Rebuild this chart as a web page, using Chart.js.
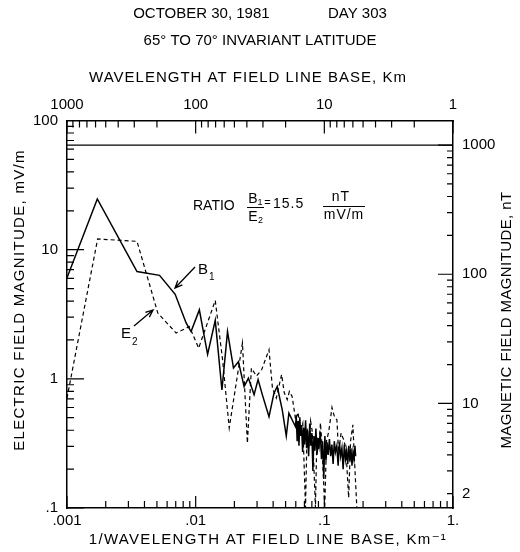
<!DOCTYPE html>
<html><head><meta charset="utf-8">
<script src="https://cdn.jsdelivr.net/npm/chart.js@4/dist/chart.umd.min.js"></script>
<style>html,body{margin:0;padding:0;background:#fff}canvas{display:block}</style>
</head><body>
<canvas id="c" width="520" height="552"></canvas>
<script>
// ---------- DATA ----------
const titleLines = ['OCTOBER 30, 1981\u00A0\u00A0\u00A0\u00A0\u00A0\u00A0\u00A0\u00A0\u00A0\u00A0\u00A0\u00A0\u00A0\u00A0DAY 303', '65° TO 70° INVARIANT LATITUDE'];
const topAxisTitle = 'WAVELENGTH AT FIELD LINE BASE, Km';
const bottomAxisTitle = '1/WAVELENGTH AT FIELD LINE BASE, Km\u207B\u00B9';
const leftAxisTitle = 'ELECTRIC FIELD MAGNITUDE, mV/m';
const rightAxisTitle = 'MAGNETIC FIELD MAGNITUDE, nT';

// B1 (magnetic, nT) vs 1/wavelength (km^-1)
const b1Freq = [0.001,0.00172,0.0035,0.00524,0.00693,0.00843,0.00921,0.01068,0.01238,0.0142,0.016,0.01768,0.01967,0.0215,0.0238,0.0257,0.02844,0.03055,0.03296,0.03715,0.0406,0.04306,0.0471,0.0506,0.05305,0.0597,
 0.0605,0.0615,0.0625,0.0635,0.0645,0.0655,0.0665,0.0678,0.069,0.0702,0.0715,0.0728,0.074,0.0755,0.077,0.0785,0.080,0.0815,0.083,0.0845,0.086,0.0878,0.0895,0.091,0.093,0.095,0.097,0.099,0.101,0.103,0.105,0.107,0.1095,0.112,0.1145,0.117,0.1195,0.122,0.125,0.128,0.131,0.134,0.137,0.140,0.143,0.146,0.149,0.152,0.155,0.158,0.161,0.164,0.167,0.170,0.173,0.175];
const b1nT = [94,383,105,98,70,42,36,53,24,44,12.7,36,18.8,21,13.5,15.7,11.7,15.3,11.7,7.9,12.0,13.5,8.9,5.6,8.4,6.6,
 8.1,5.1,7.3,4.7,7.8,5.6,6.8,4.2,6.5,4.8,7.4,4.5,6.2,3.9,7.0,4.7,5.9,3.0,5.6,4.3,6.4,4.0,5.4,4.7,6.0,3.7,5.1,2.6,5.6,3.6,5.0,4.0,5.3,3.9,4.8,3.4,5.1,4.2,4.7,3.3,5.0,3.9,4.5,3.1,4.8,3.7,4.3,3.4,4.7,3.6,4.5,3.3,4.2,3.7,4.7,3.9];

// E2 (electric, mV/m) vs 1/wavelength (km^-1)
const e2Freq = [0.001,0.00173,0.0035,0.00508,0.00705,0.00894,0.01055,0.0142,0.01618,0.01823,0.0231,0.02524,0.0271,0.0297,0.03263,0.03715,0.0395,0.04232,0.04656,0.0488,0.05146,0.0535,0.0562,0.0598,0.0625,0.0653,0.068,0.0714,0.0735,0.076,0.0782,0.0803,0.0828,0.0853,0.0875,0.0905,0.0933,0.096,0.1007,0.104,0.1082,0.1147,0.119,0.1253,0.129,0.135,0.141,0.147,0.1545,0.16,0.1667,0.171,0.179];
const e2mV = [0.71,12.1,11.6,3.23,2.26,2.54,1.73,4.04,1.41,0.417,1.89,0.318,1.21,1.05,1.18,1.68,0.85,0.71,1.08,0.78,0.69,0.80,0.73,0.483,0.55,0.381,0.45,0.1,0.42,0.30,0.47,0.40,0.22,0.1,0.36,0.28,0.455,0.30,0.1,0.33,0.39,0.60,0.52,0.48,0.27,0.38,0.34,0.29,0.12,0.33,0.44,0.25,0.1];

// 1000 nT reference line
const refFreq = [0.001, 1];
const refnT = [1000, 1000];

// Ticks and labels
const freqTicks = [0.001,0.002,0.003,0.004,0.005,0.006,0.007,0.008,0.009,0.01,0.02,0.03,0.04,0.05,0.06,0.07,0.08,0.09,0.1,0.2,0.3,0.4,0.5,0.6,0.7,0.8,0.9,1];
const freqLabels = {0.001:'.001', 0.01:'.01', 0.1:'.1', 1:'1.'};
const waveTicks = [1000,900,800,700,600,500,400,300,200,100,90,80,70,60,50,40,30,20,10,9,8,7,6,5,4,3,2,1];
const waveLabels = {1000:'1000', 100:'100', 10:'10', 1:'1'};
const eTicks = [0.1,0.2,0.3,0.4,0.5,0.6,0.7,0.8,0.9,1,2,3,4,5,6,7,8,9,10,20,30,40,50,60,70,80,90,100];
const eLabels = {0.1:'.1', 1:'1', 10:'10', 100:'100'};
const bTicks = [2,3,4,5,6,7,8,9,10,20,30,40,50,60,70,80,90,100,200,300,400,500,600,700,800,900,1000];
const bLabels = {2:'2', 10:'10', 100:'100', 1000:'1000'};

// ---------- CHART ----------
const FONT = "'Liberation Sans', 'DejaVu Sans', Arial, sans-serif";
const pts = (xs, ys) => xs.map((x, i) => ({x, y: ys[i]}));
const isDecade = v => Math.abs(Math.log10(v) - Math.round(Math.log10(v))) < 1e-6;

const frameTicks = {
  id: 'frameTicks',
  afterDraw(chart) {
    const {ctx, chartArea: a, scales} = chart;
    ctx.save();
    ctx.strokeStyle = '#000';
    ctx.lineWidth = 1.2;
    ctx.beginPath();
    scales.x.ticks.forEach(t => {
      const p = scales.x.getPixelForValue(t.value), L = isDecade(t.value) ? 12 : 7;
      ctx.moveTo(p, a.bottom); ctx.lineTo(p, a.bottom - L);
    });
    scales.x2.ticks.forEach(t => {
      const p = scales.x2.getPixelForValue(t.value), L = isDecade(t.value) ? 13 : 7;
      ctx.moveTo(p, a.top); ctx.lineTo(p, a.top + L);
    });
    scales.y.ticks.forEach(t => {
      const p = scales.y.getPixelForValue(t.value), L = isDecade(t.value) ? 17 : 7;
      ctx.moveTo(a.left, p); ctx.lineTo(a.left + L, p);
    });
    scales.y2.ticks.forEach(t => {
      const p = scales.y2.getPixelForValue(t.value), L = isDecade(t.value) ? 15 : 6;
      ctx.moveTo(a.right, p); ctx.lineTo(a.right - L, p);
    });
    ctx.stroke();

    // axis titles (drawn with slightly wider lettering, like the original)
    ctx.fillStyle = '#000';
    ctx.font = `15px ${FONT}`;
    ctx.textAlign = 'center';
    ctx.textBaseline = 'middle';
    const cx = (a.left + a.right) / 2;
    ctx.letterSpacing = '1px';
    ctx.fillText(topAxisTitle, cx - 12, 78);
    ctx.letterSpacing = '1.3px';
    ctx.fillText(bottomAxisTitle, cx + 8, 540);
    ctx.save(); ctx.translate(20, 300); ctx.rotate(-Math.PI / 2); ctx.fillText(leftAxisTitle, 0, 0); ctx.restore();
    ctx.letterSpacing = '0.4px';
    ctx.save(); ctx.translate(507, 320); ctx.rotate(-Math.PI / 2); ctx.fillText(rightAxisTitle, 0, 0); ctx.restore();
    ctx.letterSpacing = '0px';

    // ratio annotation
    ctx.font = `14px ${FONT}`;
    ctx.textAlign = 'left';
    ctx.fillText('RATIO', 193, 206);
    ctx.textAlign = 'center';
    ctx.fillText('B', 253, 199);
    ctx.fillText('E', 253, 217);
    ctx.font = `9px ${FONT}`;
    ctx.fillText('1', 260, 203);
    ctx.fillText('2', 260.5, 221);
    ctx.font = `11px ${FONT}`;
    ctx.fillText('=', 267.5, 203);
    ctx.font = `14px ${FONT}`;
    ctx.textAlign = 'left';
    ctx.letterSpacing = '1px';
    ctx.fillText('15.5', 273, 204);
    ctx.textAlign = 'center';
    ctx.fillText('nT', 341, 197);
    ctx.fillText('mV/m', 344, 215);
    ctx.letterSpacing = '0px';
    ctx.lineWidth = 1;
    ctx.beginPath();
    ctx.moveTo(247, 207.5); ctx.lineTo(264, 207.5);
    ctx.moveTo(323, 206.5); ctx.lineTo(365, 206.5);
    ctx.stroke();

    // curve labels with arrows
    ctx.font = `15px ${FONT}`;
    ctx.textAlign = 'left';
    ctx.fillText('B', 198, 270);
    ctx.fillText('E', 121, 334);
    ctx.font = `10px ${FONT}`;
    ctx.fillText('1', 209, 277);
    ctx.fillText('2', 132, 342);
    const arrow = (x1, y1, x2, y2) => {
      const ang = Math.atan2(y2 - y1, x2 - x1), h = 8, s = 0.4;
      ctx.beginPath();
      ctx.moveTo(x1, y1); ctx.lineTo(x2, y2);
      ctx.moveTo(x2 - h * Math.cos(ang - s), y2 - h * Math.sin(ang - s));
      ctx.lineTo(x2, y2);
      ctx.lineTo(x2 - h * Math.cos(ang + s), y2 - h * Math.sin(ang + s));
      ctx.stroke();
    };
    ctx.lineWidth = 1.3;
    arrow(195, 267, 175, 288);
    arrow(134, 326, 153, 310);
    ctx.restore();
  }
};

const tickFont = {family: FONT, size: 15};
const border = {display: true, color: '#000', width: 1.5};

new Chart(document.getElementById('c'), {
  type: 'line',
  data: {
    datasets: [
      {label: 'B1', data: pts(b1Freq, b1nT), yAxisID: 'y2', xAxisID: 'x', borderColor: '#000', borderWidth: 1.5, pointRadius: 0, tension: 0, fill: false},
      {label: 'E2', data: pts(e2Freq, e2mV), yAxisID: 'y', xAxisID: 'x', borderColor: '#000', borderWidth: 1.2, borderDash: [4, 3], pointRadius: 0, tension: 0, fill: false},
      {label: '1000 nT', data: pts(refFreq, refnT), yAxisID: 'y2', xAxisID: 'x', borderColor: '#000', borderWidth: 1.2, pointRadius: 0, tension: 0, fill: false}
    ]
  },
  options: {
    responsive: false,
    animation: false,
    devicePixelRatio: 1,
    layout: {padding: 0},
    plugins: {
      legend: {display: false},
      tooltip: {enabled: false},
      title: {display: true, text: titleLines, color: '#000', font: {family: FONT, size: 15, weight: 'normal', lineHeight: 1.8}, padding: {top: 0, bottom: 6}}
    },
    scales: {
      x: {
        type: 'logarithmic', position: 'bottom', min: 0.001, max: 1,
        afterBuildTicks: s => { s.ticks = freqTicks.map(v => ({value: v})); },
        afterFit: s => { s.height = 44; },
        ticks: {autoSkip: false, maxRotation: 0, color: '#000', font: tickFont, padding: 4, callback: v => freqLabels[v] ?? ''},
        grid: {display: false, drawTicks: false},
        border
      },
      x2: {
        type: 'logarithmic', position: 'top', min: 1, max: 1000, reverse: true,
        afterBuildTicks: s => { s.ticks = waveTicks.map(v => ({value: v})); },
        afterFit: s => { s.height = 60.5; },
        ticks: {autoSkip: false, maxRotation: 0, color: '#000', font: tickFont, padding: 6.5, callback: v => waveLabels[v] ?? ''},
        grid: {display: false, drawTicks: false},
        border
      },
      y: {
        type: 'logarithmic', position: 'left', min: 0.1, max: 100,
        afterBuildTicks: s => { s.ticks = eTicks.map(v => ({value: v})); },
        afterFit: s => { s.width = 67; },
        ticks: {autoSkip: false, color: '#000', font: tickFont, padding: 9, callback: v => eLabels[v] ?? ''},
        grid: {display: false, drawTicks: false},
        border
      },
      y2: {
        type: 'logarithmic', position: 'right', min: 1.55, max: 1550,
        afterBuildTicks: s => { s.ticks = bTicks.map(v => ({value: v})); },
        afterFit: s => { s.width = 67; },
        ticks: {autoSkip: false, color: '#000', font: tickFont, padding: 9, callback: v => bLabels[v] ?? ''},
        grid: {display: false, drawTicks: false},
        border
      }
    }
  },
  plugins: [frameTicks]
});
</script>
</body></html>
